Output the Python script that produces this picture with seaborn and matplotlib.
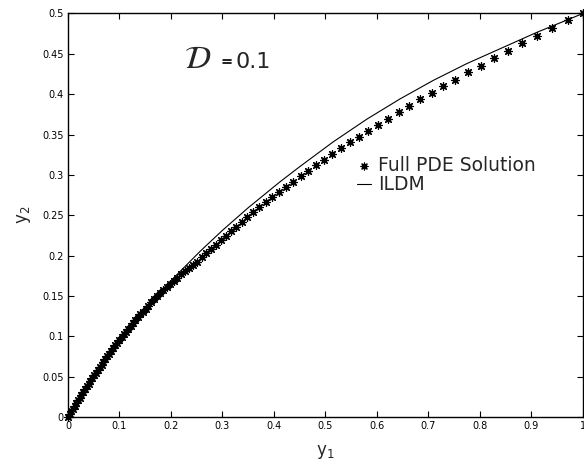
import matplotlib
matplotlib.use("Agg")
import matplotlib.pyplot as plt
import seaborn as sns

# ---- data ----
pde_x = [0.0, 0.0032, 0.0064, 0.0096, 0.0128, 0.0161, 0.0194, 0.0228, 0.0262, 0.0296,
         0.0330, 0.0365, 0.0400, 0.0435, 0.0470, 0.0506, 0.0542, 0.0578, 0.0614, 0.0651,
         0.0688, 0.0725, 0.0763, 0.0801, 0.0840, 0.0879, 0.0919, 0.0959, 0.1000, 0.1042,
         0.1084, 0.1127, 0.1171, 0.1216, 0.1262, 0.1309, 0.1357, 0.1406, 0.1456, 0.1508,
         0.1561, 0.1616, 0.1672, 0.1730, 0.1790, 0.1852, 0.1916, 0.1982, 0.2050, 0.2120,
         0.2193, 0.2268, 0.2346, 0.2427, 0.2510,
         0.2596, 0.2685, 0.2777, 0.2868, 0.2965, 0.3062, 0.3159, 0.3262, 0.3373, 0.3482,
         0.3598, 0.3715, 0.3839, 0.3967, 0.4103, 0.4233, 0.4375, 0.4518, 0.4660, 0.4810,
         0.4965, 0.5132, 0.5295, 0.5470, 0.5650, 0.5831, 0.6019, 0.6219, 0.6421, 0.6627,
         0.6841, 0.7062, 0.7287, 0.7520, 0.7773, 0.8019, 0.8278, 0.8550, 0.8821, 0.9113,
         0.9398, 0.9703, 1.0]
pde_y = [0.0, 0.0035, 0.0069, 0.0103, 0.0136, 0.0171, 0.0205, 0.0240, 0.0274, 0.0309,
         0.0343, 0.0378, 0.0412, 0.0446, 0.0480, 0.0515, 0.0549, 0.0582, 0.0616, 0.0650,
         0.0684, 0.0717, 0.0751, 0.0785, 0.0819, 0.0853, 0.0887, 0.0921, 0.0955, 0.0990,
         0.1024, 0.1058, 0.1093, 0.1129, 0.1164, 0.1200, 0.1235, 0.1271, 0.1307, 0.1344,
         0.1381, 0.1419, 0.1456, 0.1494, 0.1533, 0.1571, 0.1610, 0.1650, 0.1689, 0.1728,
         0.1767, 0.1806, 0.1846, 0.1885, 0.1923,
         0.1981, 0.2031, 0.2081, 0.2134, 0.2187, 0.2246, 0.2299, 0.2357, 0.2416, 0.2473,
         0.2535, 0.2597, 0.2659, 0.2721, 0.2783, 0.2854, 0.2916, 0.2981, 0.3052, 0.3118,
         0.3189, 0.3259, 0.3329, 0.3403, 0.3474, 0.3548, 0.3623, 0.3697, 0.3775, 0.3855,
         0.3937, 0.4020, 0.4098, 0.4181, 0.4272, 0.4355, 0.4445, 0.4537, 0.4628, 0.4718,
         0.4818, 0.4922, 0.5]

ildm_x = [0.0, 0.05, 0.1, 0.15, 0.2, 0.2563, 0.3, 0.35, 0.4117, 0.4505, 0.5152, 0.58,
          0.6447, 0.7094, 0.7742, 0.8388, 0.91, 1.0]
ildm_y = [0.0, 0.052, 0.097, 0.135, 0.169, 0.2051, 0.2313, 0.2593, 0.2914, 0.3104, 0.3410,
          0.3689, 0.3941, 0.4171, 0.4378, 0.4562, 0.4765, 0.5]

x_ticks = [0, 0.1, 0.2, 0.3, 0.4, 0.5, 0.6, 0.7, 0.8, 0.9, 1]
x_labels = ["0", "0.1", "0.2", "0.3", "0.4", "0.5", "0.6", "0.7", "0.8", "0.9", "1"]
y_ticks = [0, 0.05, 0.1, 0.15, 0.2, 0.25, 0.3, 0.35, 0.4, 0.45, 0.5]
y_labels = ["0", "0.05", "0.1", "0.15", "0.2", "0.25", "0.3", "0.35", "0.4", "0.45", "0.5"]

sns.set_style("ticks")
plt.rcParams["font.family"] = ["DejaVu Sans"]
plt.rcParams["xtick.direction"] = "in"
plt.rcParams["ytick.direction"] = "in"

fig = plt.figure(figsize=(5.84, 4.68), dpi=100)
ax = fig.add_axes([0.1164, 0.109, 0.8818, 0.8622])

sns.scatterplot(x=pde_x, y=pde_y, ax=ax, marker=(8, 2, 0), s=30, color="black",
                linewidth=0.9, label="Full PDE Solution", clip_on=False, zorder=3)
sns.lineplot(x=ildm_x, y=ildm_y, ax=ax, color="black", linewidth=0.8, label="ILDM")

ax.set_xlim(0, 1)
ax.set_ylim(0, 0.5)
ax.set_xticks(x_ticks)
ax.set_xticklabels(x_labels)
ax.set_yticks(y_ticks)
ax.set_yticklabels(y_labels)
ax.tick_params(axis="both", which="both", direction="in", length=4, width=0.8,
               labelsize=7, top=True, right=True, pad=3, colors="black")
for s in ax.spines.values():
    s.set_visible(True)
    s.set_linewidth(1.0)
    s.set_color("black")

ax.set_xlabel(r"y$_1$", fontsize=12)
ax.set_ylabel(r"y$_2$", fontsize=12)
ax.xaxis.set_label_coords(0.499, -0.065)
ax.yaxis.set_label_coords(-0.068, 0.5)

ax.text(0.226, 0.432, r"$\mathcal{D}$", math_fontfamily="stix", fontsize=23,
        ha="left", va="baseline")
ax.text(0.297, 0.435, "=", fontsize=10.5, fontweight="bold", ha="left", va="baseline")
ax.text(0.326, 0.433, "0.1", fontsize=16, ha="left", va="baseline")

leg = ax.legend(loc="center left", bbox_to_anchor=(0.561, 0.599), frameon=False,
                fontsize=13.5, handlelength=0.75, handletextpad=0.4, borderpad=0,
                borderaxespad=0, labelspacing=0.0, markerscale=0.9)

fig.savefig("out.png", dpi=100)
